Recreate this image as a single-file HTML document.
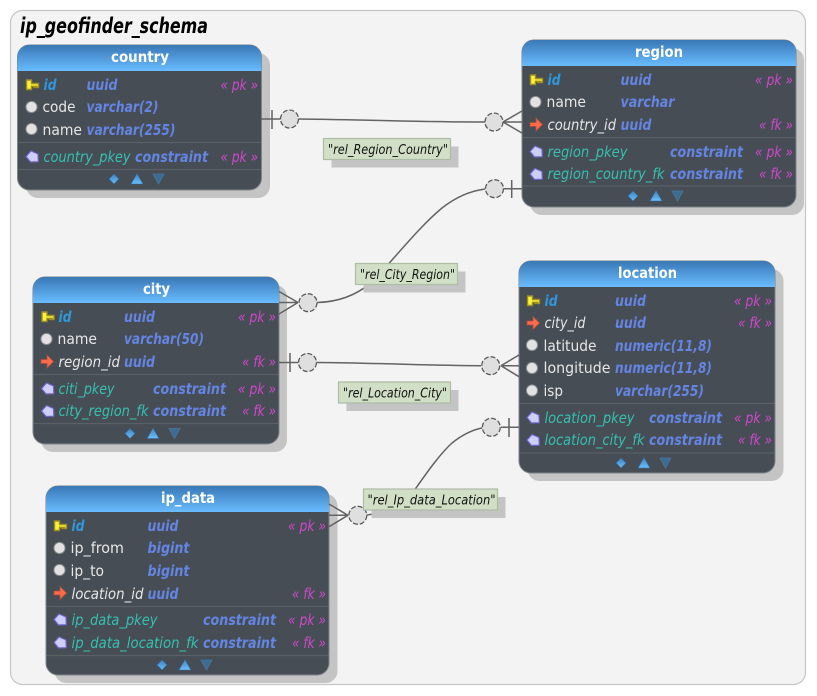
<!DOCTYPE html>
<html><head><meta charset="utf-8">
<style>
html,body{margin:0;padding:0;background:#fff;width:817px;height:696px;overflow:hidden}
svg{display:block}
text{font-family:"DejaVu Sans","Liberation Sans",sans-serif;font-size:15px}
.t{font-weight:bold;fill:#fff;font-size:15px}
.i{font-weight:bold;font-style:italic;fill:#2f98dc}
.n{fill:#e6e6e6}
.f{font-style:italic;fill:#e6e6e6}
.c{font-style:italic;fill:#35c0b0}
.y{font-weight:bold;font-style:italic;fill:#6485e2}
.k{font-style:italic;fill:#cf48cc}
.l{font-style:italic;fill:#111;font-size:13px}
.tb{fill:#474d55;stroke:#7d8389;stroke-width:1}
.sep{stroke:#5a6068;stroke-width:1.2}
.lnk{fill:none;stroke:#636363;stroke-width:1.5}
.cir{fill:#dfdfdf;stroke:#5a5a5a;stroke-width:1.3;stroke-dasharray:5 2}
.sh{fill:#c4c4c4}
.lb{fill:#d0dfc5;stroke:#aebba5;stroke-width:1.2}
</style></head><body>
<svg width="817" height="696" viewBox="0 0 817 696" xmlns="http://www.w3.org/2000/svg">
<defs>
<linearGradient id="h" x1="0" y1="0" x2="0" y2="1"><stop offset="0" stop-color="#3a78b6"/><stop offset="1" stop-color="#68bcff"/></linearGradient>
<linearGradient id="b" x1="0" y1="0" x2="0" y2="1"><stop offset="0" stop-color="#3f82c0"/><stop offset="1" stop-color="#6cbdf8"/></linearGradient>
<g id="key"><path d="M-5.5,-5 h5 v3.5 h7 v4 h-2 v-1.2 h-1.3 v1.2 h-1.4 v-1.2 h-2.3 v3.2 h-5 z" fill="#fff03a" stroke="#9a8f20" stroke-width="1.4" stroke-linejoin="round"/></g>
<g id="dot"><circle r="5.6" fill="#e2e2e2" stroke="#85888c" stroke-width="1"/></g>
<g id="arr"><path d="M-6,-2 h6 v-4.5 l6.5,6.5 l-6.5,6.5 v-4.5 h-6 z" fill="#ff6a48" stroke="#a8503e" stroke-width="0.8"/></g>
<g id="pen"><path d="M-6,0 L-1,-5.5 L6,-2.5 L6.3,5.2 L-1.5,5.5 Z" fill="#cdcdff" stroke="#6f63c8" stroke-width="1.2"/></g>
<g id="tools">
<path d="M-28,0 l5,-5 l5,5 l-5,5 z" fill="url(#b)" stroke="#2f6a9e" stroke-width="0.6"/>
<path d="M-6,5 l6,-10.5 l6,10.5 z" fill="url(#b)" stroke="#2f6a9e" stroke-width="0.6"/>
<path d="M16,-5 h11 l-5.5,10 z" fill="#3e6b90" stroke="#44779f" stroke-width="0.8"/>
</g>
</defs>

<rect x="10.5" y="10.5" width="795" height="674" rx="12" fill="#f3f3f3" stroke="#c6c6c6" stroke-width="1.2"/>
<text x="20" y="33" style="font-size:21px;font-weight:bold;font-style:italic;fill:#000" textLength="188" lengthAdjust="spacingAndGlyphs">ip_geofinder_schema</text>

<!-- country -->
<rect class="sh" x="26" y="53" width="244" height="145" rx="12"/>
<rect class="tb" x="17.5" y="45" width="244" height="145" rx="12"/>
<path d="M17.5,71 V57 a12,12 0 0 1 12,-12 h220 a12,12 0 0 1 12,12 V71 z" fill="url(#h)"/>
<text class="t" x="111" y="62" textLength="58" lengthAdjust="spacingAndGlyphs">country</text>
<use href="#key" x="32" y="85"/><text class="i" x="43.5" y="90" textLength="13" lengthAdjust="spacingAndGlyphs">id</text><text class="y" x="86.5" y="90" textLength="31" lengthAdjust="spacingAndGlyphs">uuid</text><text class="k" x="220.5" y="90" textLength="37.5" lengthAdjust="spacingAndGlyphs">« pk »</text>
<use href="#dot" x="31.5" y="107"/><text class="n" x="42.5" y="112" textLength="33" lengthAdjust="spacingAndGlyphs">code</text><text class="y" x="86.5" y="112" textLength="72" lengthAdjust="spacingAndGlyphs">varchar(2)</text>
<use href="#dot" x="31.5" y="129"/><text class="n" x="42.5" y="135" textLength="39.5" lengthAdjust="spacingAndGlyphs">name</text><text class="y" x="86.5" y="135" textLength="89" lengthAdjust="spacingAndGlyphs">varchar(255)</text>
<path class="sep" d="M18,142.5 H261 M18,169.5 H261"/>
<use href="#pen" x="32" y="156.5"/><text class="c" x="43.5" y="162" textLength="87" lengthAdjust="spacingAndGlyphs">country_pkey</text><text class="y" x="135" y="162" textLength="73" lengthAdjust="spacingAndGlyphs">constraint</text><text class="k" x="220.5" y="162" textLength="37.5" lengthAdjust="spacingAndGlyphs">« pk »</text>
<use href="#tools" x="137" y="179"/>

<!-- region -->
<rect class="sh" x="530" y="48" width="274" height="167" rx="12"/>
<rect class="tb" x="522" y="40" width="274" height="167" rx="12"/>
<path d="M522,66 V52 a12,12 0 0 1 12,-12 h250 a12,12 0 0 1 12,12 V66 z" fill="url(#h)"/>
<text class="t" x="635" y="57" textLength="48" lengthAdjust="spacingAndGlyphs">region</text>
<use href="#key" x="536" y="80"/><text class="i" x="547.5" y="85" textLength="13" lengthAdjust="spacingAndGlyphs">id</text><text class="y" x="620.5" y="85" textLength="31" lengthAdjust="spacingAndGlyphs">uuid</text><text class="k" x="755" y="85" textLength="38" lengthAdjust="spacingAndGlyphs">« pk »</text>
<use href="#dot" x="535.5" y="102"/><text class="n" x="546.5" y="107" textLength="39.5" lengthAdjust="spacingAndGlyphs">name</text><text class="y" x="620.5" y="107" textLength="54" lengthAdjust="spacingAndGlyphs">varchar</text>
<use href="#arr" x="536" y="124.5"/><text class="f" x="547.5" y="130" textLength="68.5" lengthAdjust="spacingAndGlyphs">country_id</text><text class="y" x="620.5" y="130" textLength="31" lengthAdjust="spacingAndGlyphs">uuid</text><text class="k" x="759" y="130" textLength="34" lengthAdjust="spacingAndGlyphs">« fk »</text>
<path class="sep" d="M522.5,137.5 H795.5 M522.5,186 H795.5"/>
<use href="#pen" x="536" y="151.5"/><text class="c" x="547.5" y="157" textLength="80" lengthAdjust="spacingAndGlyphs">region_pkey</text><text class="y" x="670" y="157" textLength="73" lengthAdjust="spacingAndGlyphs">constraint</text><text class="k" x="755" y="157" textLength="38" lengthAdjust="spacingAndGlyphs">« pk »</text>
<use href="#pen" x="536" y="174"/><text class="c" x="547.5" y="179" textLength="117" lengthAdjust="spacingAndGlyphs">region_country_fk</text><text class="y" x="670" y="179" textLength="73" lengthAdjust="spacingAndGlyphs">constraint</text><text class="k" x="759" y="179" textLength="34" lengthAdjust="spacingAndGlyphs">« fk »</text>
<use href="#tools" x="656" y="196"/>

<!-- city -->
<rect class="sh" x="41" y="285" width="246" height="167" rx="12"/>
<rect class="tb" x="33" y="277" width="246" height="167" rx="12"/>
<path d="M33,303 V289 a12,12 0 0 1 12,-12 h222 a12,12 0 0 1 12,12 V303 z" fill="url(#h)"/>
<text class="t" x="143" y="294" textLength="27" lengthAdjust="spacingAndGlyphs">city</text>
<use href="#key" x="47.5" y="317"/><text class="i" x="58.5" y="322" textLength="13" lengthAdjust="spacingAndGlyphs">id</text><text class="y" x="124" y="322" textLength="31" lengthAdjust="spacingAndGlyphs">uuid</text><text class="k" x="238" y="322" textLength="38" lengthAdjust="spacingAndGlyphs">« pk »</text>
<use href="#dot" x="46.5" y="339"/><text class="n" x="57.5" y="344" textLength="39.5" lengthAdjust="spacingAndGlyphs">name</text><text class="y" x="124" y="344" textLength="80" lengthAdjust="spacingAndGlyphs">varchar(50)</text>
<use href="#arr" x="47" y="361.5"/><text class="f" x="58.5" y="367" textLength="61.5" lengthAdjust="spacingAndGlyphs">region_id</text><text class="y" x="124" y="367" textLength="31" lengthAdjust="spacingAndGlyphs">uuid</text><text class="k" x="242" y="367" textLength="34" lengthAdjust="spacingAndGlyphs">« fk »</text>
<path class="sep" d="M33.5,374.5 H278.5 M33.5,423.5 H278.5"/>
<use href="#pen" x="47.5" y="388.5"/><text class="c" x="58.5" y="394" textLength="56" lengthAdjust="spacingAndGlyphs">citi_pkey</text><text class="y" x="153" y="394" textLength="73" lengthAdjust="spacingAndGlyphs">constraint</text><text class="k" x="238" y="394" textLength="38" lengthAdjust="spacingAndGlyphs">« pk »</text>
<use href="#pen" x="47.5" y="411"/><text class="c" x="58.5" y="416" textLength="90" lengthAdjust="spacingAndGlyphs">city_region_fk</text><text class="y" x="153" y="416" textLength="73" lengthAdjust="spacingAndGlyphs">constraint</text><text class="k" x="242" y="416" textLength="34" lengthAdjust="spacingAndGlyphs">« fk »</text>
<use href="#tools" x="153" y="433.5"/>

<!-- location -->
<rect class="sh" x="527.5" y="269" width="256" height="212" rx="12"/>
<rect class="tb" x="519" y="261" width="256" height="212" rx="12"/>
<path d="M519,287 V273 a12,12 0 0 1 12,-12 h232 a12,12 0 0 1 12,12 V287 z" fill="url(#h)"/>
<text class="t" x="618" y="278" textLength="59" lengthAdjust="spacingAndGlyphs">location</text>
<use href="#key" x="533" y="301"/><text class="i" x="544.5" y="306" textLength="13" lengthAdjust="spacingAndGlyphs">id</text><text class="y" x="615" y="306" textLength="31" lengthAdjust="spacingAndGlyphs">uuid</text><text class="k" x="734" y="306" textLength="38" lengthAdjust="spacingAndGlyphs">« pk »</text>
<use href="#arr" x="533" y="323"/><text class="f" x="544.5" y="328" textLength="41" lengthAdjust="spacingAndGlyphs">city_id</text><text class="y" x="615" y="328" textLength="31" lengthAdjust="spacingAndGlyphs">uuid</text><text class="k" x="738" y="328" textLength="34" lengthAdjust="spacingAndGlyphs">« fk »</text>
<use href="#dot" x="532" y="345"/><text class="n" x="543.5" y="351" textLength="53" lengthAdjust="spacingAndGlyphs">latitude</text><text class="y" x="615" y="351" textLength="97" lengthAdjust="spacingAndGlyphs">numeric(11,8)</text>
<use href="#dot" x="532" y="368"/><text class="n" x="543.5" y="373" textLength="67" lengthAdjust="spacingAndGlyphs">longitude</text><text class="y" x="615" y="373" textLength="97" lengthAdjust="spacingAndGlyphs">numeric(11,8)</text>
<use href="#dot" x="532" y="390.5"/><text class="n" x="543.5" y="396" textLength="19.5" lengthAdjust="spacingAndGlyphs">isp</text><text class="y" x="615" y="396" textLength="89" lengthAdjust="spacingAndGlyphs">varchar(255)</text>
<path class="sep" d="M519.5,403.5 H774.5 M519.5,453 H774.5"/>
<use href="#pen" x="533" y="417.5"/><text class="c" x="544.5" y="423" textLength="90" lengthAdjust="spacingAndGlyphs">location_pkey</text><text class="y" x="649" y="423" textLength="73" lengthAdjust="spacingAndGlyphs">constraint</text><text class="k" x="734" y="423" textLength="38" lengthAdjust="spacingAndGlyphs">« pk »</text>
<use href="#pen" x="533" y="440"/><text class="c" x="544.5" y="445" textLength="100" lengthAdjust="spacingAndGlyphs">location_city_fk</text><text class="y" x="649" y="445" textLength="73" lengthAdjust="spacingAndGlyphs">constraint</text><text class="k" x="738" y="445" textLength="34" lengthAdjust="spacingAndGlyphs">« fk »</text>
<use href="#tools" x="644" y="463"/>

<!-- ip_data -->
<rect class="sh" x="54.5" y="494" width="283" height="189" rx="12"/>
<rect class="tb" x="46" y="486" width="283" height="189" rx="12"/>
<path d="M46,512 V498 a12,12 0 0 1 12,-12 h259 a12,12 0 0 1 12,12 V512 z" fill="url(#h)"/>
<text class="t" x="161" y="503" textLength="54" lengthAdjust="spacingAndGlyphs">ip_data</text>
<use href="#key" x="60" y="526"/><text class="i" x="71.5" y="531" textLength="13" lengthAdjust="spacingAndGlyphs">id</text><text class="y" x="147.5" y="531" textLength="31" lengthAdjust="spacingAndGlyphs">uuid</text><text class="k" x="288" y="531" textLength="38" lengthAdjust="spacingAndGlyphs">« pk »</text>
<use href="#dot" x="59.5" y="548"/><text class="n" x="70.5" y="553" textLength="53.5" lengthAdjust="spacingAndGlyphs">ip_from</text><text class="y" x="147.5" y="553" textLength="42" lengthAdjust="spacingAndGlyphs">bigint</text>
<use href="#dot" x="59.5" y="570"/><text class="n" x="70.5" y="576" textLength="33.5" lengthAdjust="spacingAndGlyphs">ip_to</text><text class="y" x="147.5" y="576" textLength="42" lengthAdjust="spacingAndGlyphs">bigint</text>
<use href="#arr" x="60" y="593"/><text class="f" x="71.5" y="599" textLength="72" lengthAdjust="spacingAndGlyphs">location_id</text><text class="y" x="147.5" y="599" textLength="31" lengthAdjust="spacingAndGlyphs">uuid</text><text class="k" x="292" y="599" textLength="34" lengthAdjust="spacingAndGlyphs">« fk »</text>
<path class="sep" d="M46.5,606.5 H328.5 M46.5,655.5 H328.5"/>
<use href="#pen" x="60" y="619.5"/><text class="c" x="71.5" y="625" textLength="86" lengthAdjust="spacingAndGlyphs">ip_data_pkey</text><text class="y" x="203" y="625" textLength="73" lengthAdjust="spacingAndGlyphs">constraint</text><text class="k" x="288" y="625" textLength="38" lengthAdjust="spacingAndGlyphs">« pk »</text>
<use href="#pen" x="60" y="642.5"/><text class="c" x="71.5" y="648" textLength="127" lengthAdjust="spacingAndGlyphs">ip_data_location_fk</text><text class="y" x="203" y="648" textLength="73" lengthAdjust="spacingAndGlyphs">constraint</text><text class="k" x="292" y="648" textLength="34" lengthAdjust="spacingAndGlyphs">« fk »</text>
<use href="#tools" x="185" y="665"/>

<!-- connectors -->
<g>
<path class="lnk" d="M261,119 H281 M272,110 V129"/>
<path class="lnk" d="M298,119 C380,120 420,122 485,122"/>
<path class="lnk" d="M503,122 L522,111 M503,122 H522 M503,122 L522,133"/>
<circle class="cir" cx="289.5" cy="119" r="9"/><circle class="cir" cx="494" cy="122" r="9"/>

<path class="lnk" d="M522,188.7 H503 M511.7,180 V198"/>
<path class="lnk" d="M317,302.5 C340,302 358,294 372,282 C395,258 418,228 442,208 C456,197 470,191 485,189"/>
<path class="lnk" d="M298,302.5 L279,291.5 M298,302.5 H279 M298,302.5 L279,314"/>
<circle class="cir" cx="494.5" cy="188.7" r="9"/><circle class="cir" cx="308" cy="302.7" r="9"/>

<path class="lnk" d="M279,362.5 H298 M290,353 V372"/>
<path class="lnk" d="M316,362.5 C380,363 430,365.5 481,365.7"/>
<path class="lnk" d="M501,365.7 L519,355 M501,365.7 H519 M501,365.7 L519,376.7"/>
<circle class="cir" cx="307.5" cy="362.5" r="9"/><circle class="cir" cx="490.7" cy="365.7" r="9"/>

<path class="lnk" d="M519,427.3 H501 M509,418 V437"/>
<path class="lnk" d="M367,515 C376,514 383,512 390,509 C400,503 409,496 416,488 C428,471 440,454 452,443 C462,435 472,430 482,428"/>
<path class="lnk" d="M348,515.3 L329,504 M348,515.3 H329 M348,515.3 L329,526.7"/>
<circle class="cir" cx="491.3" cy="427.3" r="9"/><circle class="cir" cx="357.8" cy="515.3" r="9"/>
</g>

<!-- labels -->
<rect class="sh" x="331.5" y="146.5" width="127" height="21"/>
<rect class="lb" x="323.5" y="138.5" width="127" height="21"/>
<text class="l" x="328" y="154" textLength="120" lengthAdjust="spacingAndGlyphs">"rel_Region_Country"</text>

<rect class="sh" x="363.5" y="271.5" width="102" height="21"/>
<rect class="lb" x="355.5" y="263.5" width="102" height="21"/>
<text class="l" x="360" y="279" textLength="95" lengthAdjust="spacingAndGlyphs">"rel_City_Region"</text>

<rect class="sh" x="346.5" y="390" width="112" height="21"/>
<rect class="lb" x="338.5" y="382" width="112" height="21"/>
<text class="l" x="343" y="397.5" textLength="104" lengthAdjust="spacingAndGlyphs">"rel_Location_City"</text>

<rect class="sh" x="371.5" y="497" width="134" height="21"/>
<rect class="lb" x="363.5" y="489" width="134" height="21"/>
<text class="l" x="367.5" y="504.5" textLength="128" lengthAdjust="spacingAndGlyphs">"rel_Ip_data_Location"</text>
</svg>
</body></html>
